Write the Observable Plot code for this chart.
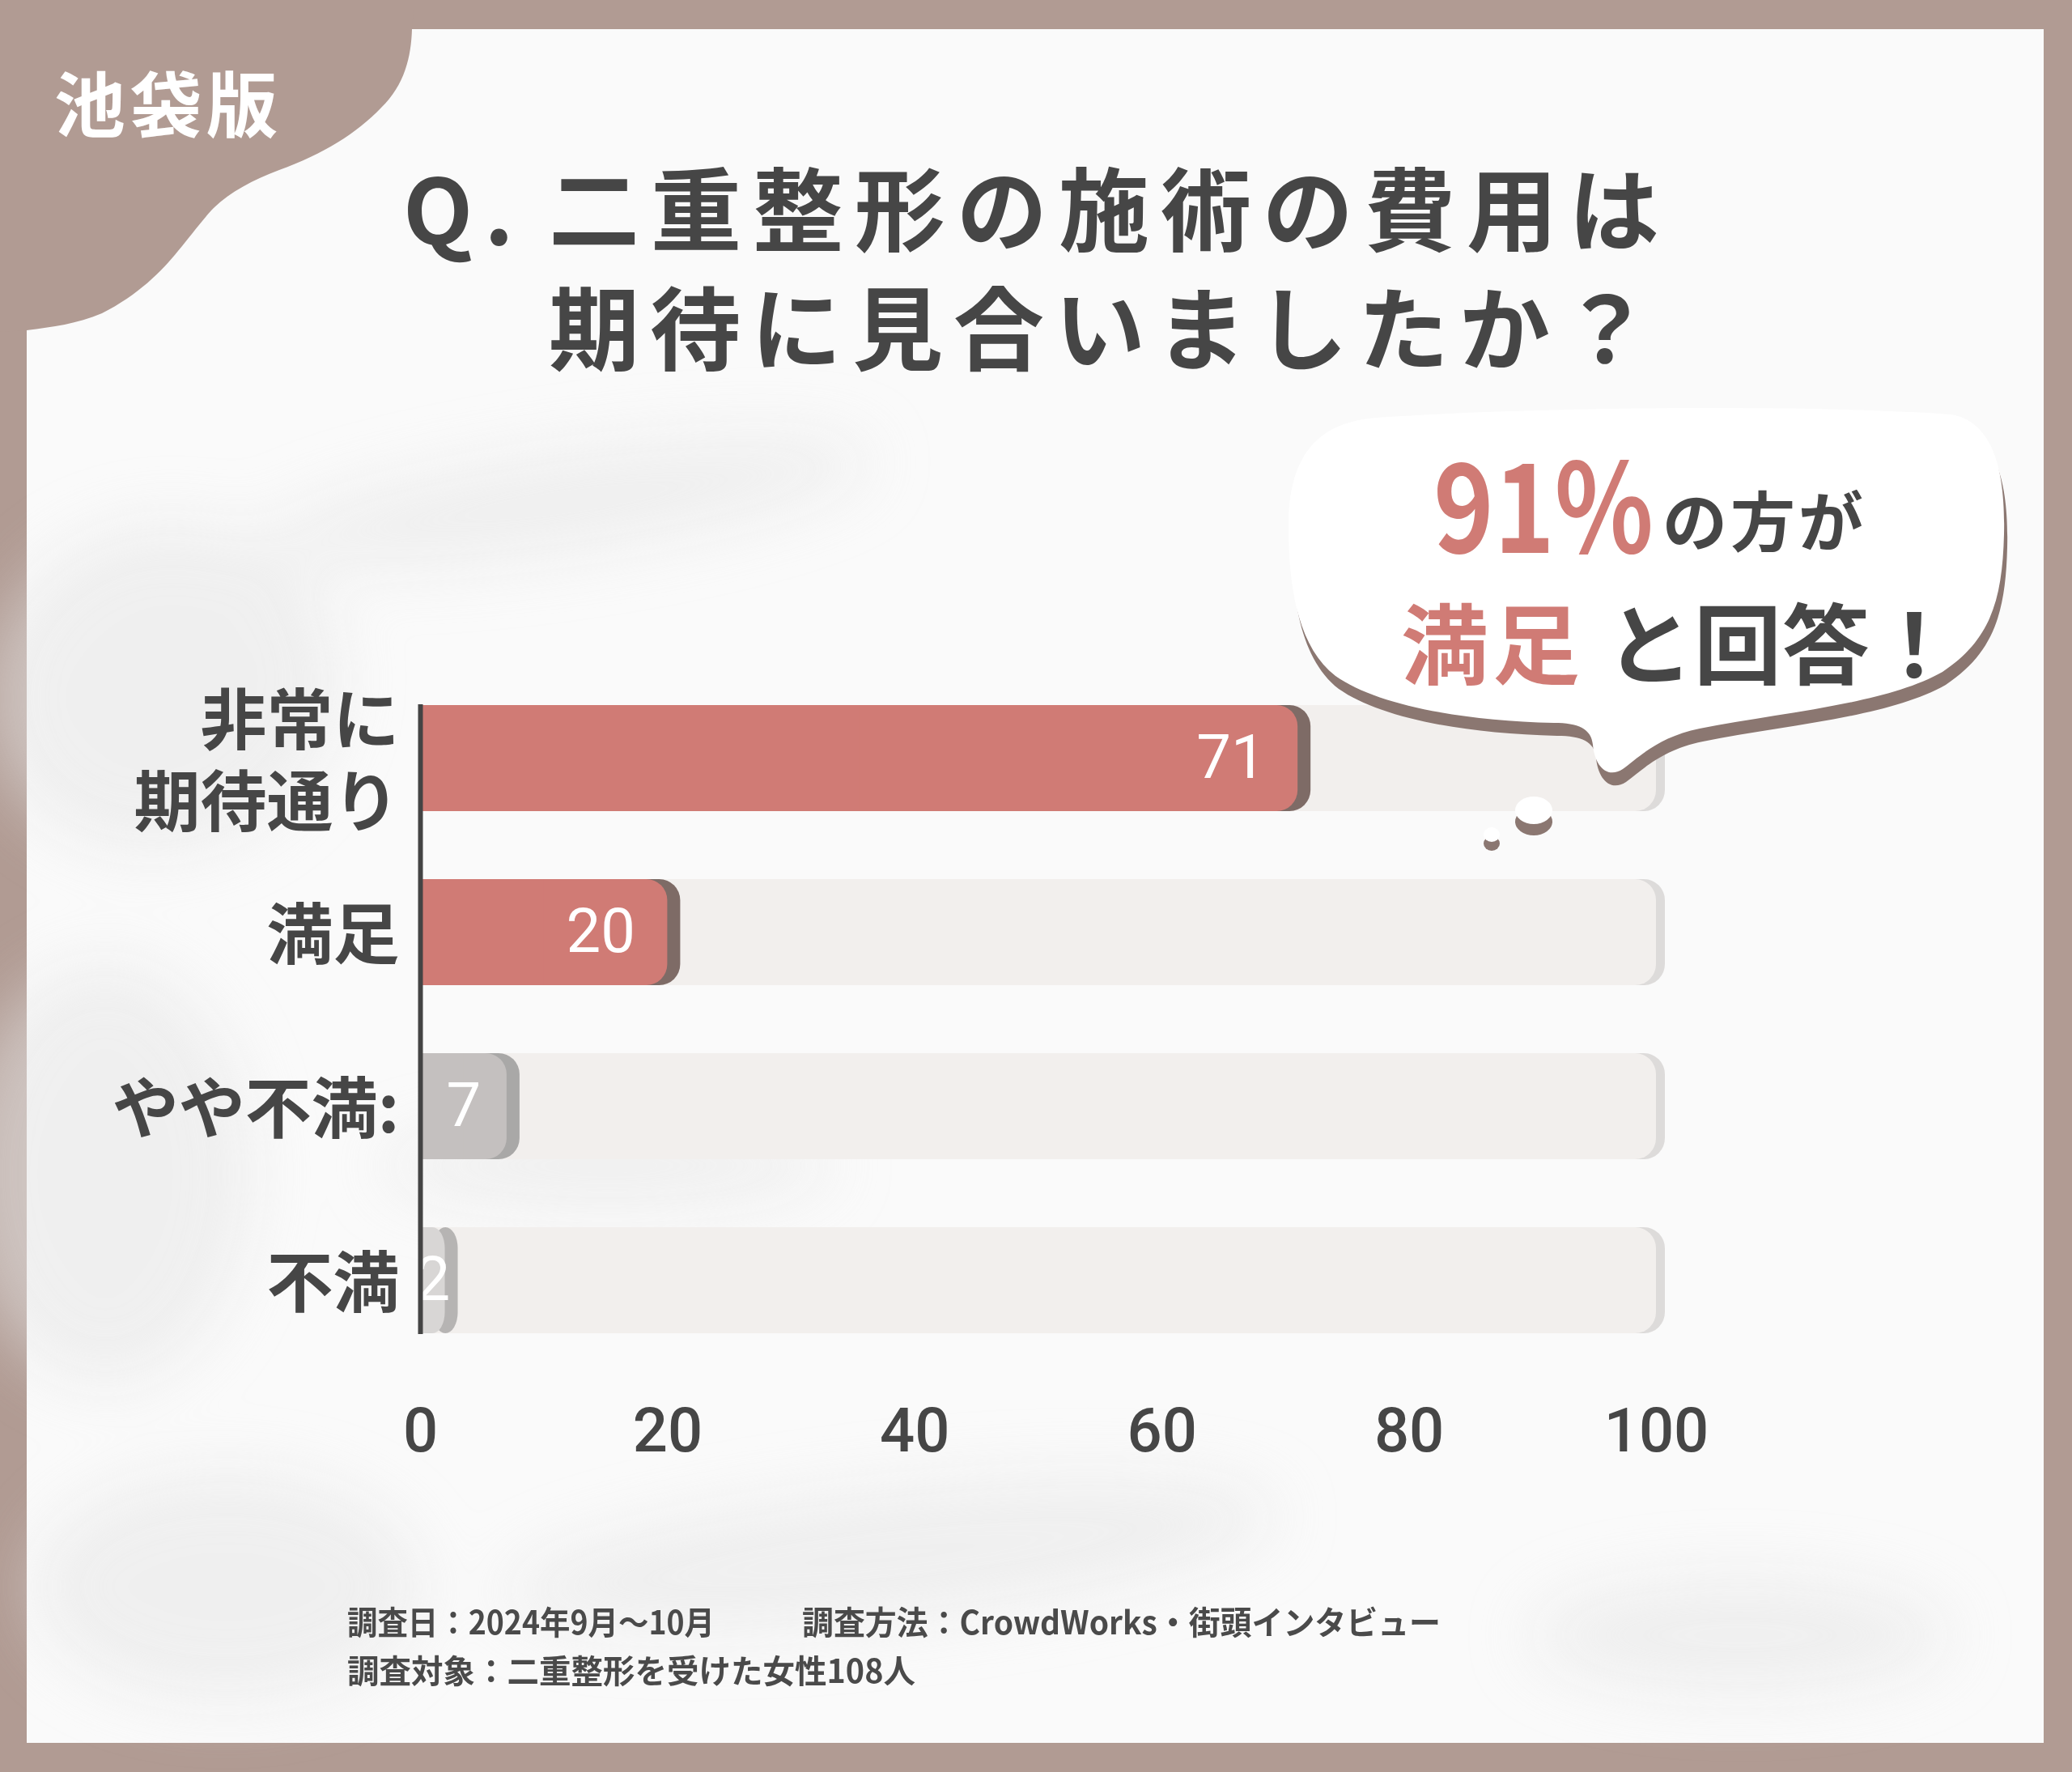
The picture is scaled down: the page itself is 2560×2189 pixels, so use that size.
<!DOCTYPE html>
<html>
<head>
<meta charset="utf-8">
<script src="https://cdn.jsdelivr.net/npm/d3@7"></script>
<script src="https://cdn.jsdelivr.net/npm/@observablehq/plot@0.6"></script>
<style>
  html, body { margin: 0; padding: 0; background: #b19b93; overflow: hidden; }
  #root { position: relative; width: 2560px; height: 2189px; overflow: hidden; }
  #bg, #chart, #fg { position: absolute; left: 0; top: 0; }
  #chart svg { background: transparent !important; }
</style>
</head>
<body>
<div id="root">
  <svg id="bg" width="2560" height="2189"></svg>
  <div id="chart"></div>
  <svg id="fg" width="2560" height="2189"></svg>
</div>
<script>
// ---------- data ----------
const categories = ["非常に\n期待通り", "満足", "やや不満:", "不満"];
const values = [71, 20, 7, 2];
const xTicks = [0, 20, 40, 60, 80, 100];
const trackMax = 100;

const badge = "池袋版";
const titleQ = "Q.";
const titleLine1 = "二重整形の施術の費用は";
const titleLine2 = "期待に見合いましたか？";
const bubblePct = "91%";
const bubbleA = "の方が";
const bubbleB = "満足";
const bubbleC = "と回答！";
const footer1a = "調査日：2024年9月～10月";
const footer1b = "調査方法：CrowdWorks・街頭インタビュー";
const footer2 = "調査対象：二重整形を受けた女性108人";

// ---------- styles ----------
const JP = '"Noto Sans CJK JP", "Noto Sans", sans-serif';
const DARK = "#464646";
const PINK = "#d07b75";
const barFill = {"非常に\n期待通り": "#d07b75", "満足": "#d07b75", "やや不満:": "#c4c0bf", "不満": "#d8d6d5"};
const shadowFill = {"非常に\n期待通り": "#7e6b66", "満足": "#7e6b66", "やや不満:": "#a9a8a7", "不満": "#b6b4b3"};

const data = categories.map((c, i) => ({category: c, value: values[i]}));

// ---------- background decoration ----------
const NS = "http://www.w3.org/2000/svg";
function el(parent, tag, attrs, text) {
  const e = document.createElementNS(NS, tag);
  for (const k in attrs) e.setAttribute(k, attrs[k]);
  if (text !== undefined) e.textContent = text;
  parent.appendChild(e);
  return e;
}
const bg = document.getElementById("bg");
const defs = el(bg, "defs", {});
const blur = el(defs, "filter", {id: "blur", x: "-50%", y: "-50%", width: "200%", height: "200%"});
el(blur, "feGaussianBlur", {stdDeviation: "40"});
el(bg, "rect", {x: 0, y: 0, width: 2560, height: 2189, fill: "#b19b93"});
el(bg, "rect", {x: 33, y: 36, width: 2492, height: 2117, fill: "#fafafa"});
const blot = el(bg, "g", {filter: "url(#blur)", fill: "#e6e6e6", opacity: 0.55});
el(blot, "ellipse", {cx: 200, cy: 850, rx: 220, ry: 200, transform: "rotate(-20 200 850)"});
el(blot, "ellipse", {cx: 700, cy: 620, rx: 380, ry: 60, transform: "rotate(-8 700 620)"});
el(blot, "ellipse", {cx: 130, cy: 1450, rx: 180, ry: 260});
el(blot, "ellipse", {cx: 750, cy: 1440, rx: 280, ry: 50});
el(blot, "ellipse", {cx: 1100, cy: 1920, rx: 480, ry: 80, transform: "rotate(-6 1100 1920)"});
el(blot, "ellipse", {cx: 280, cy: 1960, rx: 240, ry: 140});
el(blot, "ellipse", {cx: 2150, cy: 2020, rx: 260, ry: 70});
// corner blob
el(bg, "path", {
  d: "M 0,0 L 512,0 L 509,36 C 508,70 500,105 471,133 C 440,165 400,190 345,210 C 310,223 280,240 261,260 C 245,278 235,292 220,310 C 200,335 170,365 126,387 C 95,400 65,404 33,408 L 0,410 Z",
  fill: "#b19b93"
});
el(bg, "text", {x: 67, y: 123, "dominant-baseline": "central", "font-family": JP, "font-weight": 700,
  "font-size": 88, "letter-spacing": 6, fill: "#ffffff"}, badge);
// title
el(bg, "text", {x: 498, y: 253, "dominant-baseline": "central", "font-family": JP, "font-weight": 700,
  "font-size": 112, "letter-spacing": 14, fill: DARK}, titleQ);
el(bg, "text", {x: 678, y: 253, "dominant-baseline": "central", "font-family": JP, "font-weight": 700,
  "font-size": 112, "letter-spacing": 14, fill: DARK}, titleLine1);
el(bg, "text", {x: 678, y: 400, "dominant-baseline": "central", "font-family": JP, "font-weight": 700,
  "font-size": 112, "letter-spacing": 13, fill: DARK}, titleLine2);
// footer
const fAttrs = {"dominant-baseline": "central", "font-family": JP, "font-weight": 700, "font-size": 40,
  fill: "#4a4a4a", lengthAdjust: "spacingAndGlyphs"};
el(bg, "text", Object.assign({x: 429, y: 2002, textLength: 454}, fAttrs), footer1a);
el(bg, "text", Object.assign({x: 991, y: 2002, textLength: 789}, fAttrs), footer1b);
el(bg, "text", Object.assign({x: 429, y: 2062, textLength: 702}, fAttrs), footer2);

// ---------- chart ----------
const chart = Plot.plot({
  width: 2560,
  height: 2189,
  marginLeft: 519,
  marginRight: 514,
  marginTop: 785,
  marginBottom: 456,
  x: {domain: [0, 100], axis: null},
  y: {domain: categories, axis: null, padding: 0.393},
  style: {background: "transparent", fontFamily: JP, overflow: "visible"},
  marks: [
    // background tracks
    Plot.barX(data, {y: "category", x1: 0, x2: () => trackMax, dx: 11, rx: 26, fill: "#dddbda"}),
    Plot.barX(data, {y: "category", x1: 0, x2: () => trackMax, rx: 26, fill: "#f2efed"}),
    Plot.barX(data, {y: "category", x1: 0, x2: () => trackMax / 2, fill: "#f2efed"}),
    // value bars (shadow, bar, squared left part)
    Plot.barX(data, {y: "category", x1: 0, x2: "value", dx: 16, rx: 26, fill: d => shadowFill[d.category]}),
    Plot.barX(data, {y: "category", x1: 0, x2: "value", rx: 26, fill: d => barFill[d.category]}),
    Plot.barX(data, {y: "category", x1: 0, x2: d => d.value / 2, fill: d => barFill[d.category]}),
    // value labels
    Plot.text(data, {filter: d => d.value >= 10, x: "value", y: "category", text: d => String(d.value),
      dx: -40, textAnchor: "end", fill: "white", fontSize: 76, fontFamily: "Roboto", fontWeight: 400}),
    Plot.text(data, {filter: d => d.value < 10, x: d => d.value / 2, y: "category", text: d => String(d.value),
      textAnchor: "middle", fill: "white", fontSize: 76, fontFamily: "Roboto", fontWeight: 400}),
    // y axis line
    Plot.ruleX([0], {stroke: "#444444", strokeWidth: 6, insetTop: 85, insetBottom: 85}),
    // y labels
    Plot.text(data, {y: "category", text: "category", frameAnchor: "left", dx: -26, textAnchor: "end",
      fontSize: 82, fontWeight: 700, lineHeight: 1.23, fill: DARK, fontFamily: JP}),
    // x tick labels
    Plot.text(xTicks, {x: d => d, text: d => String(d), frameAnchor: "bottom", lineAnchor: "middle", dy: 35,
      fontSize: 76, fontWeight: 500, fill: DARK, fontFamily: "Roboto"})
  ]
});
document.getElementById("chart").appendChild(chart);

// ---------- speech bubble (on top) ----------
const fg = document.getElementById("fg");
const bubblePath = "M 1592,650 C 1592,560 1630,522 1700,516 C 1900,502 2250,500 2410,512 C 2462,520 2478,580 2476,660 C 2474,740 2460,790 2400,830 C 2330,870 2200,880 2100,900 C 2050,910 2025,935 2005,950 C 1985,963 1970,945 1968,920 C 1966,900 1950,893 1920,893 C 1800,890 1700,870 1650,835 C 1605,800 1592,730 1592,650 Z";
el(fg, "path", {d: bubblePath, fill: "#8b7771", transform: "translate(4,16)"});
el(fg, "path", {d: bubblePath, fill: "#ffffff"});
// dots
el(fg, "ellipse", {cx: 1895, cy: 1015, rx: 23, ry: 17, fill: "#8b7771"});
el(fg, "ellipse", {cx: 1895, cy: 1001, rx: 23, ry: 17, fill: "#ffffff"});
el(fg, "ellipse", {cx: 1843, cy: 1042, rx: 10, ry: 9, fill: "#8b7771"});
el(fg, "ellipse", {cx: 1843, cy: 1031, rx: 10, ry: 9, fill: "#ffffff"});
// bubble text
el(fg, "text", {x: 1771, y: 683, "font-family": JP, "font-weight": 700, "font-size": 152,
  fill: PINK, textLength: 272, lengthAdjust: "spacingAndGlyphs"}, bubblePct);
el(fg, "text", {x: 2054, y: 674, "font-family": JP, "font-weight": 700, "font-size": 80,
  "letter-spacing": 4, fill: DARK}, bubbleA);
el(fg, "text", {x: 1731, y: 790, "dominant-baseline": "central", "font-family": JP, "font-weight": 700,
  "font-size": 108, "letter-spacing": 5, fill: PINK}, bubbleB);
el(fg, "text", {x: 1984, y: 790, "dominant-baseline": "central", "font-family": JP, "font-weight": 700,
  "font-size": 108, "letter-spacing": 1, fill: DARK}, bubbleC);
</script>
</body>
</html>
